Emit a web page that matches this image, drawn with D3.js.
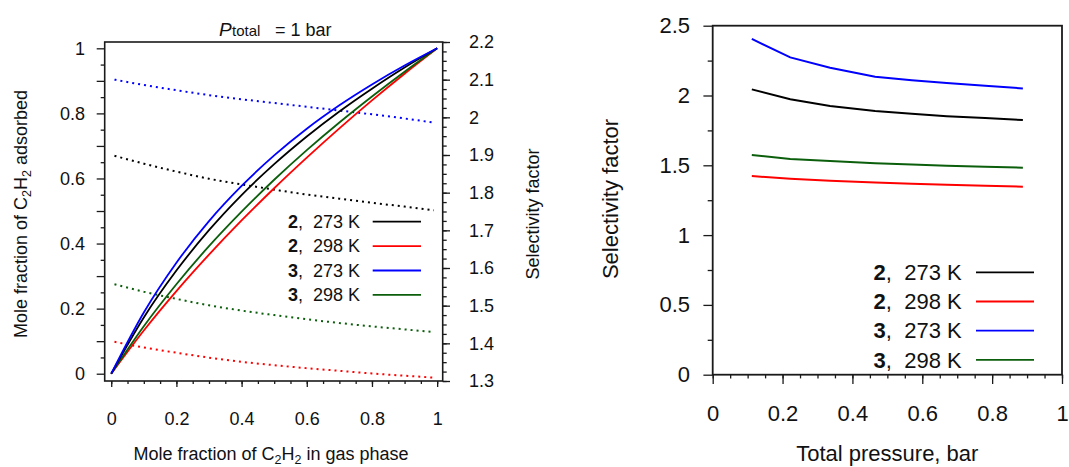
<!DOCTYPE html>
<html>
<head>
<meta charset="utf-8">
<script src="https://cdn.jsdelivr.net/npm/d3@7"></script>
<style>
    body { margin: 0; background: #fff; }
    svg text { font-family: "Liberation Sans", Arial, sans-serif; fill: #111; }
</style>
</head>
<body>
<svg id="chart" width="1069" height="467"></svg>
<script>
/*****************  Data  **********************/

// left panel: mole fraction of C2H2 in gas phase vs adsorbed (P total = 1 bar)
var gasFraction = [0, 0.1, 0.2, 0.3, 0.4, 0.5, 0.6, 0.7, 0.8, 0.9, 1];
var ads2_273 = [0, 0.173, 0.317, 0.441, 0.549, 0.644, 0.729, 0.806, 0.876, 0.941, 1];
var ads2_298 = [0, 0.133, 0.254, 0.366, 0.471, 0.570, 0.664, 0.754, 0.840, 0.922, 1];
var ads3_273 = [0, 0.188, 0.341, 0.469, 0.577, 0.671, 0.753, 0.825, 0.889, 0.947, 1];
var ads3_298 = [0, 0.146, 0.275, 0.392, 0.498, 0.596, 0.687, 0.772, 0.852, 0.928, 1];

// left panel: selectivity factor (dotted, right axis)
var selFraction = [0.01, 0.1, 0.2, 0.3, 0.4, 0.5, 0.6, 0.7, 0.8, 0.9, 0.99];
var sel2_273 = [1.898, 1.877, 1.856, 1.837, 1.822, 1.808, 1.795, 1.784, 1.773, 1.763, 1.753];
var sel2_298 = [1.404, 1.389, 1.375, 1.362, 1.351, 1.342, 1.334, 1.327, 1.320, 1.314, 1.309];
var sel3_273 = [2.100, 2.086, 2.072, 2.059, 2.048, 2.038, 2.028, 2.018, 2.008, 1.997, 1.986];
var sel3_298 = [1.557, 1.537, 1.518, 1.501, 1.487, 1.475, 1.464, 1.454, 1.445, 1.437, 1.430];

// right panel: selectivity factor vs total pressure
var pressure = [0.112, 0.222, 0.336, 0.465, 0.57, 0.67, 0.78, 0.888];
var psel2_273 = [2.044, 1.973, 1.925, 1.889, 1.869, 1.852, 1.838, 1.824];
var psel2_298 = [1.423, 1.404, 1.390, 1.376, 1.367, 1.360, 1.353, 1.347];
var psel3_273 = [2.405, 2.273, 2.199, 2.135, 2.109, 2.089, 2.069, 2.051];
var psel3_298 = [1.574, 1.545, 1.531, 1.515, 1.505, 1.497, 1.490, 1.483];

var legendNum = ["2", "2", "3", "3"];
var legendTemp = ["273 K", "298 K", "273 K", "298 K"];

// tick labels
var leftYTicks = [0, 0.2, 0.4, 0.6, 0.8, 1];
var leftXTicks = [0, 0.2, 0.4, 0.6, 0.8, 1];
var leftSelTicks = [1.3, 1.4, 1.5, 1.6, 1.7, 1.8, 1.9, 2, 2.1, 2.2];
var rightYTicks = [0, 0.5, 1, 1.5, 2, 2.5];
var rightXTicks = [0, 0.2, 0.4, 0.6, 0.8, 1];

var colors = ["#000000", "#ff0000", "#0000ff", "#0b5e0b"];

var svg = d3.select("#chart");

function range(a, b, step) {
    var out = [];
    var n = Math.round((b - a) / step);
    for (var i = 0; i <= n; i++) out.push(+(a + i * step).toFixed(4));
    return out;
}

function fmt(d) {
    return d3.format("")(+d.toFixed(2));
}

function styleAxis(g, size) {
    g.select(".domain").remove();
    g.selectAll("line").attr("stroke", "#1a1a1a").attr("stroke-width", 1.3);
    g.selectAll("text")
        .attr("font-family", "Liberation Sans, Arial, sans-serif")
        .attr("font-size", size)
        .attr("fill", "#111");
}

/*****************  Left panel  **********************/

var L = {left: 104.7, right: 442.7, top: 42, bottom: 381};

var lx = d3.scaleLinear().domain([-0.02, 1.017]).range([L.left, L.right]);
var ly = d3.scaleLinear().domain([-0.0224, 1.0194]).range([L.bottom, L.top]);
var ls = d3.scaleLinear().domain([1.3, 2.2]).range([L.bottom, L.top]);

// left axis: major every 0.1, labels every 0.2, minor every 0.05
svg.append("g")
    .attr("transform", "translate(" + L.left + ",0)")
    .call(d3.axisLeft(ly).tickValues(range(0, 1, 0.05).filter(function (d, i) { return i % 2 == 1; }))
        .tickSize(4).tickFormat(""))
    .call(styleAxis, 18);

svg.append("g")
    .attr("transform", "translate(" + L.left + ",0)")
    .call(d3.axisLeft(ly).tickValues(range(0, 1, 0.1)).tickSize(8).tickPadding(11.7)
        .tickFormat(function (d) { return leftYTicks.indexOf(d) >= 0 ? fmt(d) : ""; }))
    .call(styleAxis, 18);

// bottom axis
svg.append("g")
    .attr("transform", "translate(0," + L.bottom + ")")
    .call(d3.axisBottom(lx).tickValues(range(0, 1, 0.05)).tickSize(3).tickFormat(""))
    .call(styleAxis, 18);

svg.append("g")
    .attr("transform", "translate(0," + L.bottom + ")")
    .call(d3.axisBottom(lx).tickValues(leftXTicks).tickSize(6).tickPadding(25.6).tickFormat(fmt))
    .call(styleAxis, 18);

// right axis (selectivity)
svg.append("g")
    .attr("transform", "translate(" + L.right + ",0)")
    .call(d3.axisRight(ls).tickValues(range(1.3, 2.2, 0.025)).tickSize(4).tickFormat(""))
    .call(styleAxis, 18);

svg.append("g")
    .attr("transform", "translate(" + L.right + ",0)")
    .call(d3.axisRight(ls).tickValues(leftSelTicks).tickSize(7.3).tickPadding(19).tickFormat(fmt))
    .call(styleAxis, 18);

svg.append("rect")
    .attr("x", L.left)
    .attr("y", L.top)
    .attr("width", L.right - L.left)
    .attr("height", L.bottom - L.top)
    .attr("fill", "none")
    .attr("stroke", "#1a1a1a")
    .attr("stroke-width", 1.6);

/*****************  Left panel lines  **********************/

var adsSeries = [ads2_273, ads2_298, ads3_273, ads3_298];
var selSeries = [sel2_273, sel2_298, sel3_273, sel3_298];

var adsLine = d3.line()
    .x(function (d, i) { return lx(gasFraction[i]); })
    .y(function (d) { return ly(d); })
    .curve(d3.curveMonotoneX);

var selLine = d3.line()
    .x(function (d, i) { return lx(selFraction[i]); })
    .y(function (d) { return ls(d); })
    .curve(d3.curveMonotoneX);

svg.selectAll(".selLine")
    .data(selSeries)
    .enter()
    .append("path")
    .attr("class", "selLine")
    .attr("d", selLine)
    .attr("fill", "none")
    .attr("stroke", function (d, i) { return colors[i]; })
    .attr("stroke-width", 2)
    .attr("stroke-dasharray", "2,4");

// draw order: red, green, black, blue on top
var adsOrder = [1, 3, 0, 2];
svg.selectAll(".adsLine")
    .data(adsOrder)
    .enter()
    .append("path")
    .attr("class", "adsLine")
    .attr("d", function (k) { return adsLine(adsSeries[k]); })
    .attr("fill", "none")
    .attr("stroke", function (k) { return colors[k]; })
    .attr("stroke-width", 1.8);

/*****************  Left panel text  **********************/

var title = svg.append("text")
    .attr("y", 35.5)
    .attr("font-size", 18);
title.append("tspan").attr("x", 219).attr("font-style", "italic").attr("font-size", 19).text("P");
title.append("tspan").attr("x", 232).attr("font-size", 15).text("total");
title.append("tspan").attr("x", 275).text("= 1 bar");

var xTitle = svg.append("text")
    .attr("x", 271)
    .attr("y", 460)
    .attr("text-anchor", "middle")
    .attr("font-size", 18);
xTitle.append("tspan").text("Mole fraction of C");
xTitle.append("tspan").attr("font-size", 12.5).attr("dy", 3.5).text("2");
xTitle.append("tspan").attr("dy", -3.5).text("H");
xTitle.append("tspan").attr("font-size", 12.5).attr("dy", 3.5).text("2");
xTitle.append("tspan").attr("dy", -3.5).text(" in gas phase");

var yTitle = svg.append("text")
    .attr("transform", "translate(27,214) rotate(-90)")
    .attr("text-anchor", "middle")
    .attr("font-size", 18);
yTitle.append("tspan").text("Mole fraction of C");
yTitle.append("tspan").attr("font-size", 12.5).attr("dy", 4).text("2");
yTitle.append("tspan").attr("dy", -4).text("H");
yTitle.append("tspan").attr("font-size", 12.5).attr("dy", 4).text("2");
yTitle.append("tspan").attr("dy", -4).text(" adsorbed");

svg.append("text")
    .attr("transform", "translate(539,214) rotate(-90)")
    .attr("text-anchor", "middle")
    .attr("font-size", 18)
    .text("Selectivity factor");

/*****************  Legends  **********************/

function drawLegend(x, y0, step, size, lineX1, lineX2) {
    var rows = svg.selectAll(null)
        .data(legendNum)
        .enter()
        .append("g")
        .attr("transform", function (d, i) { return "translate(0," + (y0 + i * step) + ")"; });

    var t = rows.append("text")
        .attr("x", x)
        .attr("dy", "0.35em")
        .attr("text-anchor", "end")
        .attr("font-size", size);
    t.append("tspan").attr("font-weight", "bold").text(function (d) { return d; });
    t.append("tspan").text(function (d, i) { return ",\u00a0\u00a0" + legendTemp[i]; });

    rows.append("line")
        .attr("x1", lineX1)
        .attr("x2", lineX2)
        .attr("y1", 0)
        .attr("y2", 0)
        .attr("stroke", function (d, i) { return colors[i]; })
        .attr("stroke-width", 1.8);
}

drawLegend(360, 221.7, 24.4, 18, 372.7, 421);

/*****************  Right panel  **********************/

var R = {left: 712.7, right: 1062, top: 25.7, bottom: 374.7};

var rx = d3.scaleLinear().domain([0, 1]).range([R.left, R.right]);
var ry = d3.scaleLinear().domain([0, 2.5]).range([R.bottom, R.top]);

svg.append("g")
    .attr("transform", "translate(" + R.left + ",0)")
    .call(d3.axisLeft(ry).tickValues(range(0.25, 2.25, 0.5)).tickSize(5).tickFormat(""))
    .call(styleAxis, 22);

svg.append("g")
    .attr("transform", "translate(" + R.left + ",0)")
    .call(d3.axisLeft(ry).tickValues(rightYTicks).tickSize(9.3).tickPadding(13.4).tickFormat(fmt))
    .call(styleAxis, 22);

svg.append("g")
    .attr("transform", "translate(0," + R.bottom + ")")
    .call(d3.axisBottom(rx).tickValues(range(0, 1, 0.05)).tickSize(3.7).tickFormat(""))
    .call(styleAxis, 22);

svg.append("g")
    .attr("transform", "translate(0," + R.bottom + ")")
    .call(d3.axisBottom(rx).tickValues(rightXTicks).tickSize(9.3).tickPadding(21).tickFormat(fmt))
    .call(styleAxis, 22);

svg.append("rect")
    .attr("x", R.left)
    .attr("y", R.top)
    .attr("width", R.right - R.left)
    .attr("height", R.bottom - R.top)
    .attr("fill", "none")
    .attr("stroke", "#1a1a1a")
    .attr("stroke-width", 1.8);

var pSeries = [psel2_273, psel2_298, psel3_273, psel3_298];

var pLine = d3.line()
    .x(function (d, i) { return rx(pressure[i]); })
    .y(function (d) { return ry(d); });

svg.selectAll(".pLine")
    .data(pSeries)
    .enter()
    .append("path")
    .attr("class", "pLine")
    .attr("d", pLine)
    .attr("fill", "none")
    .attr("stroke", function (d, i) { return colors[i]; })
    .attr("stroke-width", 2);

svg.append("text")
    .attr("x", 887.3)
    .attr("y", 461)
    .attr("text-anchor", "middle")
    .attr("font-size", 22)
    .text("Total pressure, bar");

svg.append("text")
    .attr("transform", "translate(618,199) rotate(-90)")
    .attr("text-anchor", "middle")
    .attr("font-size", 22)
    .text("Selectivity factor");

drawLegend(961.7, 272.3, 29.2, 22, 976, 1034);
</script>
</body>
</html>
